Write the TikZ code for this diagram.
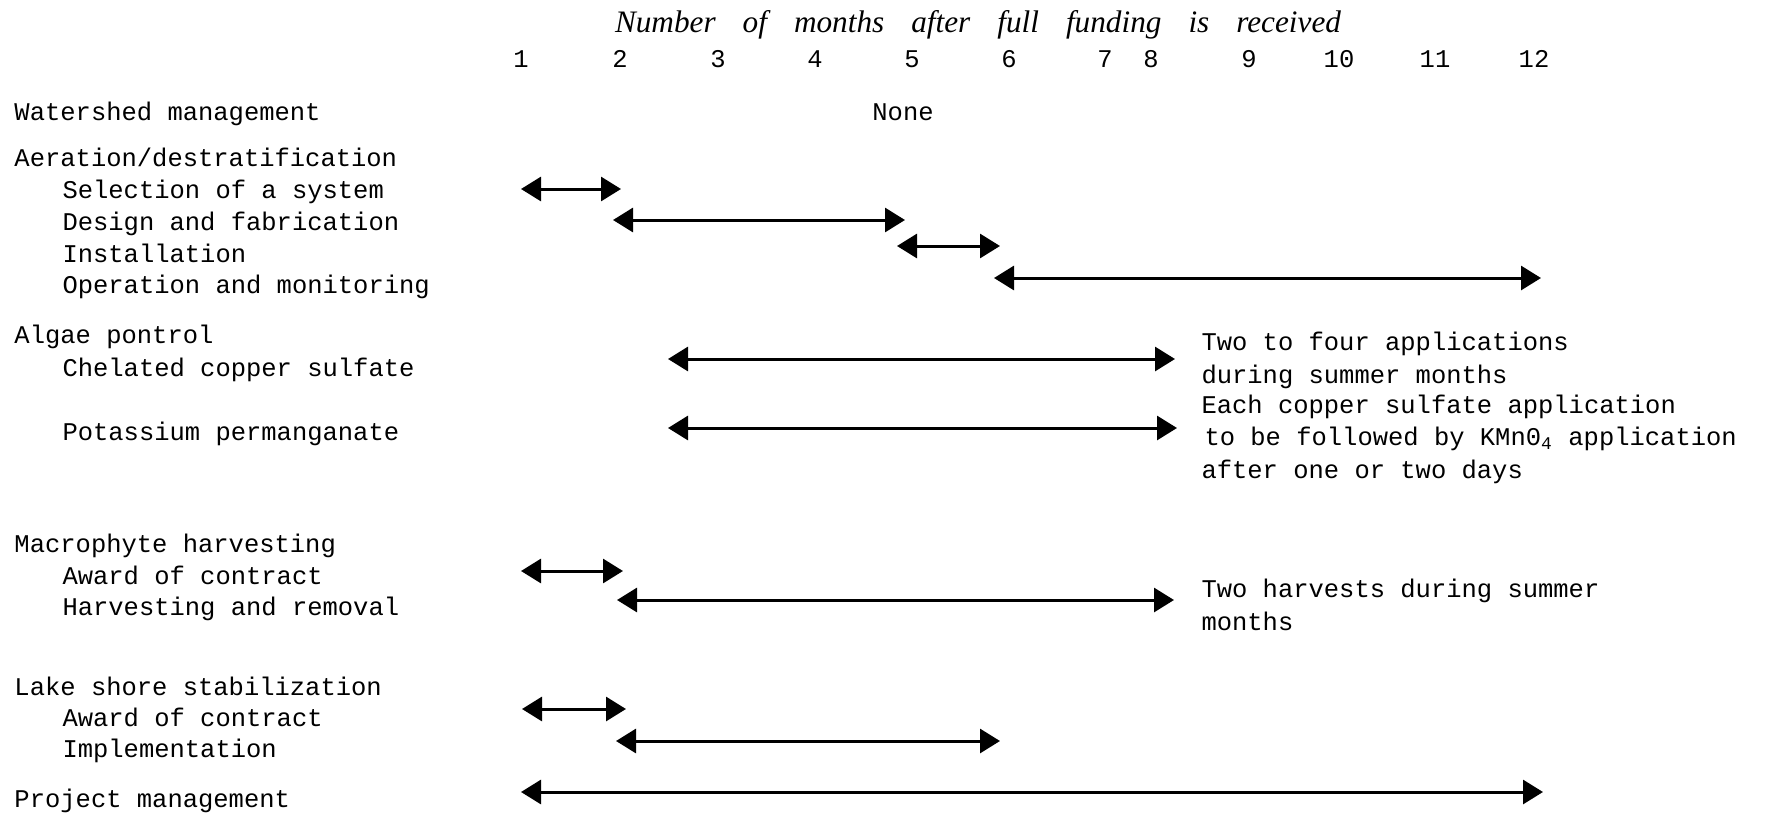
\documentclass[tikz,border=0pt]{standalone}
\usepackage{fontspec}
\setmainfont{Liberation Serif}
\newfontfamily\typer{Liberation Mono}
\usetikzlibrary{arrows.meta}

\begin{document}
\begin{tikzpicture}[x=0.4pt, y=-0.4pt,
  lbl/.style={anchor=base west, inner sep=0pt, font=\typer\fontsize{10.2}{13}\selectfont},
  mon/.style={anchor=base, inner sep=0pt, font=\typer\fontsize{10.2}{13}\selectfont},
  note/.style={lbl, align=left},
  span/.style={{Triangle[length=8pt,width=9.6pt]}-{Triangle[length=8pt,width=9.6pt]}, line width=1.2pt}]
\useasboundingbox (0,0) rectangle (1775,814);
% heading and month scale
\node[anchor=base, inner sep=0pt, font=\itshape\fontsize{12.5}{15}\selectfont] (head) at (978,32)
  {\spaceskip=10.8pt Number of months after full funding is received};
\foreach \n/\x in {1/521,2/620,3/718,4/815,5/912,6/1009,7/1105,8/1151,9/1249,10/1339,11/1435,12/1534}
  \node[mon] (m\n) at (\x,67) {\n};

% tasks
\node[lbl] (ws) at (14,120) {Watershed management};
\node[mon] (none) at (903,120) {None};
\node[lbl] (aer) at (14,166) {Aeration/destratification};
\node[lbl] (sel) at (62,198) {Selection of a system};
\node[lbl] (des) at (62,230) {Design and fabrication};
\node[lbl] (ins) at (62,262) {Installation};
\node[lbl] (opm) at (62,293) {Operation and monitoring};
\node[lbl] (alg) at (14,343) {Algae pontrol};
\node[lbl] (cu) at (62,376) {Chelated copper sulfate};
\node[lbl] (kmn) at (62,440) {Potassium permanganate};
\node[lbl] (mac) at (14,552) {Macrophyte harvesting};
\node[lbl] (maw) at (62,584) {Award of contract};
\node[lbl] (hrv) at (62,615) {Harvesting and removal};
\node[lbl] (lak) at (14,695) {Lake shore stabilization};
\node[lbl] (law) at (62,726) {Award of contract};
\node[lbl] (imp) at (62,757) {Implementation};
\node[lbl] (prj) at (14,807) {Project management};

% remarks (base = last line)
\node[note] (n1) at (1201,383) {Two to four applications\\during summer months};
\node[note] (n2) at (1201,478) {Each copper sulfate application\\\hspace*{1.2pt}to be followed by KMn0\textsubscript{4} application\\after one or two days};
\node[note] (n3) at (1201,630) {Two harvests during summer\\months};

% time spans
\foreach \i/\a/\b/\y in {1/521/621/189, 2/613/905/220, 3/897/1000/246, 4/994/1541/278,
    5/668/1175/359, 6/668/1177/428, 7/521/623/571, 8/617/1174/600,
    9/522/626/709, 10/616/1000/741, 11/521/1543/792} {
  \coordinate (s\i) at (\a,\y);
  \coordinate (e\i) at (\b,\y);
  \draw[span] (s\i) -- (e\i);
}
\end{tikzpicture}
\end{document}
